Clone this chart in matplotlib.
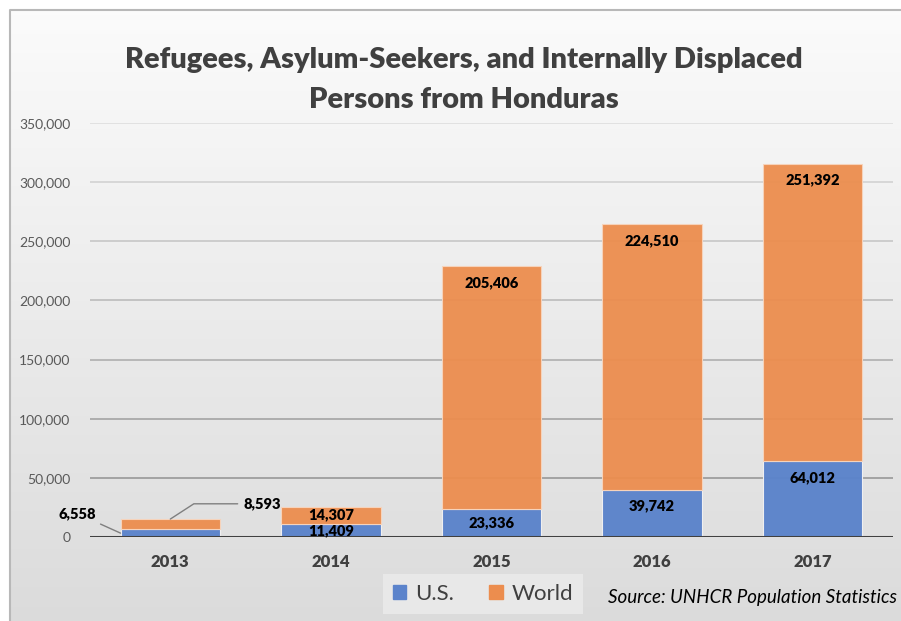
import matplotlib.pyplot as plt
import matplotlib.patches as mpatches
import numpy as np

years = ['2013', '2014', '2015', '2016', '2017']
us = [6558, 11409, 23336, 39742, 64012]
world = [8593, 14307, 205406, 224510, 251392]
yticks = [0, 50000, 100000, 150000, 200000, 250000, 300000, 350000]

BLUE = '#5b83cb'
ORANGE = '#ec8d4e'
FONT = 'Lato'

fig = plt.figure(figsize=(9.01, 6.21), dpi=100)
fig.patch.set_facecolor('white')

# background panel with soft vertical gradient and a thin frame
bg = fig.add_axes([0, 0, 1, 1], zorder=-10)
bg.set_xlim(0, 1)
bg.set_ylim(0, 1)
bg.axis('off')
grad = np.linspace(0.86, 0.985, 256).reshape(-1, 1)
bg.imshow(np.dstack([grad, grad, grad]), extent=[10 / 901, 1, 0, 1 - 10 / 621],
          origin='lower', aspect='auto')
bg.plot([10 / 901, 10 / 901, 1], [0, 1 - 10 / 621, 1 - 10 / 621], color='#b8b8b8', lw=1.5)

ax = fig.add_axes([90 / 901, 84 / 621, 803 / 901, 414 / 621])
ax.patch.set_alpha(0)
for s in ax.spines.values():
    s.set_visible(False)

x = np.arange(len(years))
ax.set_xlim(-0.5, len(years) - 0.5)
ax.set_ylim(0, 350000)

# gridlines, darker toward the bottom
for v in yticks[1:]:
    g = 0.55 + 0.32 * (v / 350000)
    ax.axhline(v, color=(g, g, g), lw=1.2, zorder=0)
ax.axhline(0, color='#404040', lw=2.2, zorder=3)

w = 0.62
ax.bar(x, us, w, color=BLUE, edgecolor='#f2f2f2', lw=0.8, alpha=0.97, zorder=2, label='U.S.')
ax.bar(x, world, w, bottom=us, color=ORANGE, edgecolor='#f7d5bd', lw=0.8, alpha=0.95,
       zorder=2, label='World')

ax.set_yticks(yticks)
ax.set_yticklabels(['{:,}'.format(v) for v in yticks], fontsize=10, color='#595959',
                   family=FONT)
ax.set_xticks(x)
ax.set_xticklabels(years, fontsize=12, fontweight='heavy', color='#404040', family=FONT)
ax.tick_params(axis='both', length=0)
ax.tick_params(axis='y', pad=14)
ax.tick_params(axis='x', pad=12)

# data labels, inside end of each segment
px_per_unit = 414 / 350000
lab_kw = dict(ha='center', va='center', fontsize=10.5, fontweight='heavy', color='black',
              family=FONT, textcoords='offset points', zorder=5)
for i in range(len(years)):
    if i == 0:
        continue
    for bottom, h in ((0, us[i]), (us[i], world[i])):
        seg_px = h * px_per_unit
        off = min(16, seg_px / 2) / 1.389
        ax.annotate('{:,}'.format(h), xy=(x[i], bottom + h), xytext=(0, -off), **lab_kw)

# 2013 segments are too thin, labels sit outside with leader lines
ax.annotate('{:,}'.format(us[0]), xy=(x[0] - w / 2, us[0] / 2), xytext=(-31, 14),
            arrowprops=dict(arrowstyle='-', color='#7f7f7f', lw=1, shrinkA=2, shrinkB=0),
            **lab_kw)
ax.annotate('{:,}'.format(world[0]), xy=(x[0], us[0] + world[0]), xytext=(66, 11),
            arrowprops=dict(arrowstyle='-', color='#7f7f7f', lw=1, shrinkA=2, shrinkB=0,
                            connectionstyle='angle,angleA=0,angleB=33,rad=0'),
            **lab_kw)

title_kw = dict(ha='center', va='center', fontsize=21, fontweight='heavy', color='#404040',
                family=FONT)
fig.text(0.515, 1 - 60 / 621, 'Refugees, Asylum-Seekers, and Internally Displaced', **title_kw)
fig.text(0.515, 1 - 100 / 621, 'Persons from Honduras', **title_kw)

handles = [mpatches.Patch(color=BLUE, label='U.S.'), mpatches.Patch(color=ORANGE, label='World')]
leg = fig.legend(handles=handles, loc='center', bbox_to_anchor=(483 / 901, 27.5 / 621),
                 ncol=2, frameon=True, fancybox=False, handlelength=0.6, handleheight=0.6,
                 handletextpad=0.4, columnspacing=1.6, borderpad=0.45,
                 prop={'family': FONT, 'size': 16})
leg.get_frame().set_facecolor('#ececec')
leg.get_frame().set_edgecolor('none')
for t in leg.get_texts():
    t.set_color('#404040')

fig.text(897 / 901, 1 - 598 / 621, 'Source: UNHCR Population Statistics', ha='right',
         va='center', fontsize=13.5, style='italic', color='black', family=FONT)

fig.savefig('out.png', dpi=100)
